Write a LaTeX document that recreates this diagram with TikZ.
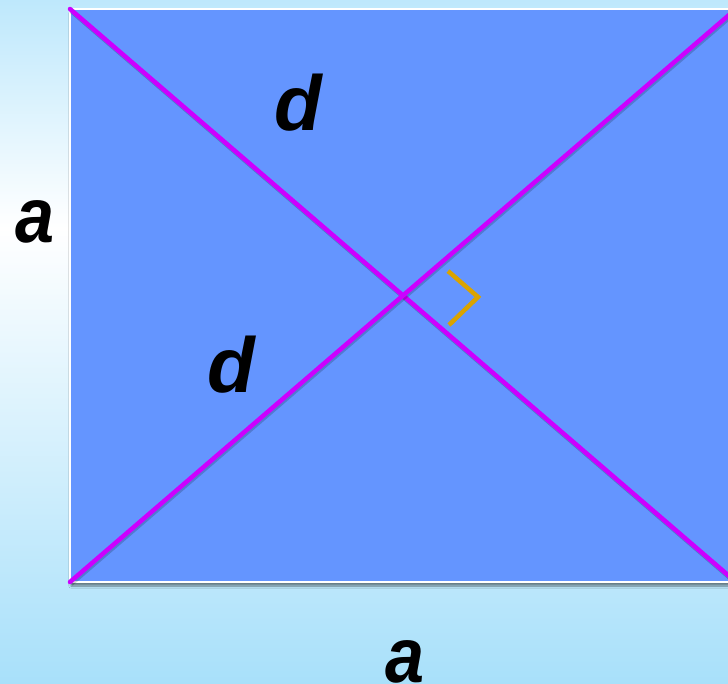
\documentclass[tikz,border=0pt]{standalone}
\usepackage{fontspec}
\setmainfont{Liberation Sans}
\usetikzlibrary{shadows.blur}
\definecolor{skytop}{RGB}{190,232,252}
\definecolor{skybottom}{RGB}{168,224,250}
\definecolor{plate}{RGB}{100,149,255}
\definecolor{diag}{RGB}{204,0,255}
\definecolor{marker}{RGB}{218,163,0}
\begin{document}
\begin{tikzpicture}[
        x=1pt, y=-1pt,
        plate/.style={fill=plate, draw=white, line width=2pt,
            blur shadow={shadow xshift=1pt, shadow yshift=-4pt, shadow blur steps=6, shadow opacity=45}},
        diagonal/.style={draw=diag, line width=4.5pt, line cap=round,
            preaction={draw=black, opacity=0.18, line width=4.5pt, transform canvas={xshift=1pt, yshift=-2pt}}},
        rightangle/.style={draw=marker, line width=4.5pt},
        lbl/.style={inner sep=0pt, anchor=base, font=\fontsize{78}{90}\selectfont\bfseries\itshape}
    ]
    \useasboundingbox (0,0) rectangle (728,684);
    \clip (0,0) rectangle (728,684);
    % background
    \shade[top color=skytop, bottom color=white] (0,0) rectangle (728,228);
    \shade[top color=white, bottom color=skybottom] (0,228) rectangle (728,684);
    % rectangle and its corners
    \coordinate (tl) at (70,9);
    \coordinate (tr) at (736,9);
    \coordinate (br) at (736,582);
    \coordinate (bl) at (70,582);
    \path[plate] (tl) rectangle (br);
    \draw[diagonal] (tl) -- (br);
    \draw[diagonal] (bl) -- (tr);
    \coordinate (o) at (403,295.5);
    \draw[rightangle] ([shift={(45,-24.5)}]o) -- ([shift={(75,1.5)}]o) -- ([shift={(46,29.5)}]o);
    % labels
    \node[lbl, xscale=0.9] (aleft) at (35,243) {a};
    \node[lbl, xscale=0.9] (abottom) at (405,682) {a};
    \node[lbl] (dtop) at (298,131) {d};
    \node[lbl] (dbottom) at (231,392) {d};
\end{tikzpicture}
\end{document}
